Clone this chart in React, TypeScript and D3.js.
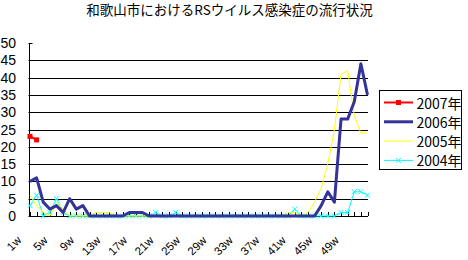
import React from "react";
import * as d3 from "d3";

const weeks: number[] = Array.from({ length: 52 }, (_, i) => i + 1);
const xLabels: string[] = ["1w","5w","9w","13w","17w","21w","25w","29w","33w","37w","41w","45w","49w"];
const yTicks: number[] = [0, 5, 10, 15, 20, 25, 30, 35, 40, 45, 50];

const s2007: number[] = [23, 22];
const s2006: number[] = [
  10, 11, 4, 2, 3, 1, 5, 2, 3, 0,
  0, 0, 0, 0, 0, 1, 1, 1, 0, 0,
  0, 0, 0, 0, 0, 0, 0, 0, 0, 0,
  0, 0, 0, 0, 0, 0, 0, 0, 0, 0,
  0, 0, 0, 0, 3, 7, 4, 28, 28, 33,
  44, 35,
];
const s2005: number[] = [
  6, 3, 1, 0, 4, 2, 0, 0, 0, 0,
  1, 1, 1, 0, 0, 0, 0, 0, 0, 0,
  0, 0, 0, 0, 0, 0, 0, 0, 0, 0,
  0, 0, 0, 0, 0, 0, 0, 0, 0, 1,
  1, 0, 1, 4, 8, 15, 25, 41, 42, 29,
  24, 24,
];
const s2004: number[] = [
  3, 6, 0, 1, 5, 1, 0, 0, 0, 0,
  0, 0, 0, 0, 0, 0, 0, 0, 0, 1,
  0, 0, 1, 0, 0, 0, 0, 0, 0, 0,
  0, 0, 0, 0, 0, 0, 0, 0, 0, 0,
  2, 0, 0, 0, 0, 0, 0, 1, 1, 7,
  7, 6,
];

const seriesNames = ["2007年", "2006年", "2005年", "2004年"];
const seriesData = [s2007, s2006, s2005, s2004];
const colors = ["#FF0000", "#333399", "#FFFF00", "#00FFFF"];
const widths = [2, 3, 1, 1];

const title = "和歌山市におけるRSウイルス感染症の流行状況";

export default function App() {
  const left = 30, right = 367.5, top = 43, bottom = 216;
  const x = d3.scalePoint<number>().domain(weeks).range([left, right]);
  const y = d3.scaleLinear().domain([0, 50]).range([bottom, top]);
  const line = d3
    .line<number>()
    .x((_, i) => x(weeks[i]) as number)
    .y((d) => y(d));
  const axisX = 29.5;

  const marker = (k: number, px: number, py: number, key: string) => {
    if (k === 0) {
      return <rect key={key} x={px - 2.5} y={py - 2.5} width={5} height={5} fill={colors[0]} />;
    }
    if (k === 3) {
      return (
        <path key={key} d={`M${px - 2.5},${py - 2.5}L${px + 2.5},${py + 2.5}M${px - 2.5},${py + 2.5}L${px + 2.5},${py - 2.5}`}
          stroke={colors[3]} strokeWidth={1} fill="none" />
      );
    }
    return null;
  };

  return (
    <div style={{ position: "absolute", left: 0, top: 0 }}>
      <svg width={468} height={260} style={{ display: "block", background: "#fff" }}>
        <text x={229.5} y={15} textAnchor="middle" fontSize={13.5} fontFamily="'Noto Sans CJK JP', sans-serif" fill="#000">
          {title}
        </text>
        {/* gridlines */}
        {yTicks.filter((t) => t > 0 && t < 50).map((t) => (
          <line key={"g" + t} x1={axisX} x2={right + 0.5} y1={Math.round(y(t)) + 0.5} y2={Math.round(y(t)) + 0.5} stroke="#000" strokeWidth={1} />
        ))}
        {/* y axis */}
        <line x1={axisX} x2={axisX} y1={top} y2={bottom + 0.5} stroke="#000" strokeWidth={1} />
        {yTicks.map((t) => (
          <line key={"yt" + t} x1={axisX - 1} x2={axisX + 3} y1={Math.round(y(t)) + 0.5} y2={Math.round(y(t)) + 0.5} stroke="#000" />
        ))}
        {yTicks.map((t) => (
          <text key={"yl" + t} x={16} y={y(t)} textAnchor="end" dominantBaseline="central" fontSize={14} fontFamily="'Liberation Sans', Arial, sans-serif" fill="#000">
            {t}
          </text>
        ))}
        {/* x axis */}
        <line x1={axisX} x2={right + 0.5} y1={bottom + 0.5} y2={bottom + 0.5} stroke="#000" />
        {weeks.map((w) => (
          <line key={"xt" + w} x1={Math.round(x(w) as number) + 0.5} x2={Math.round(x(w) as number) + 0.5} y1={bottom - 4} y2={bottom} stroke="#000" />
        ))}
        {xLabels.map((lab, i) => {
          const w = 1 + i * 4;
          const px = (x(w) as number) - 8;
          const py = 241;
          return (
            <text key={"xl" + lab} x={px} y={py} textAnchor="end" transform={`rotate(-45 ${px} ${py})`} fontSize={11.5} fontFamily="'Liberation Sans', Arial, sans-serif" fill="#000">
              {lab}
            </text>
          );
        })}
        {/* series, drawn back to front */}
        {[3, 2, 1, 0].map((k) => (
          <g key={"s" + k}>
            <path d={line(seriesData[k]) || ""} fill="none" stroke={colors[k]} strokeWidth={widths[k]} strokeLinejoin="round" />
            {seriesData[k].map((v, i) => marker(k, x(weeks[i]) as number, y(v), `m${k}-${i}`))}
          </g>
        ))}
        {/* legend */}
        <rect x={379.5} y={90.5} width={82} height={79} fill="#fff" stroke="#000" strokeWidth={1} />
        {seriesNames.map((name, k) => {
          const ly = 102.5 + k * 19.3;
          return (
            <g key={"lg" + k}>
              <line x1={384} x2={413} y1={ly} y2={ly} stroke={colors[k]} strokeWidth={widths[k]} />
              {marker(k, 398.5, ly, "lm" + k)}
              <text x={416.5} y={ly} dominantBaseline="central" fontSize={14} fontFamily="'Noto Sans CJK JP', sans-serif" fill="#000">
                {name}
              </text>
            </g>
          );
        })}
      </svg>
    </div>
  );
}
